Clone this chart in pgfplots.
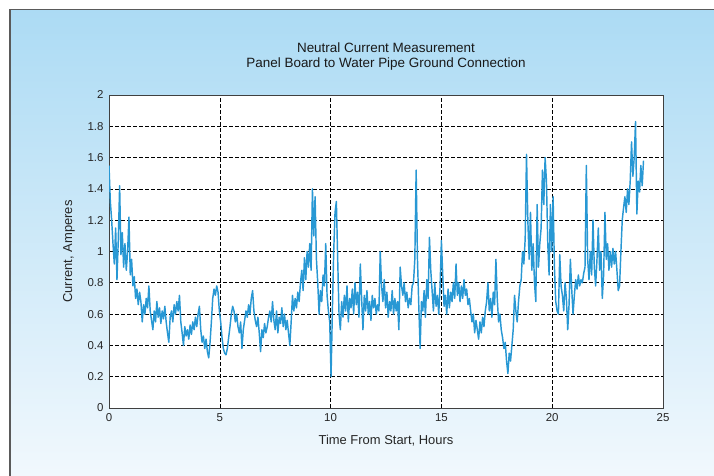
\documentclass[border=0pt]{standalone}
\usepackage{fontspec}
\setmainfont{Liberation Sans}
\usepackage{pgfplots}
\pgfplotsset{compat=1.18}
\usepackage{pgfplotstable}
\definecolor{bgtop}{RGB}{172,219,244}
\definecolor{bgbot}{RGB}{241,248,253}
\definecolor{trace}{RGB}{40,152,212}
\definecolor{frame}{RGB}{90,90,90}
\pgfplotstableread{
t v
0.00 1.55
0.06 1.32
0.12 1.20
0.18 1.05
0.24 0.92
0.30 1.15
0.36 0.82
0.42 1.08
0.48 1.42
0.54 0.98
0.60 1.12
0.66 0.90
0.72 1.05
0.78 0.88
0.84 1.00
0.90 1.22
0.96 0.85
1.02 0.95
1.08 0.78
1.14 0.84
1.20 0.70
1.26 0.76
1.32 0.66
1.38 0.74
1.44 0.68
1.50 0.55
1.56 0.66
1.62 0.60
1.68 0.70
1.74 0.64
1.80 0.78
1.86 0.62
1.92 0.56
1.98 0.50
2.04 0.62
2.10 0.55
2.16 0.68
2.22 0.58
2.28 0.64
2.34 0.54
2.40 0.62
2.46 0.57
2.52 0.65
2.58 0.55
2.64 0.48
2.70 0.42
2.76 0.58
2.82 0.62
2.88 0.55
2.94 0.66
3.00 0.60
3.06 0.68
3.12 0.62
3.18 0.72
3.24 0.55
3.30 0.48
3.36 0.40
3.42 0.52
3.48 0.46
3.54 0.50
3.60 0.44
3.66 0.53
3.72 0.47
3.78 0.55
3.84 0.50
3.90 0.58
3.96 0.52
4.02 0.60
4.08 0.65
4.14 0.50
4.20 0.42
4.26 0.46
4.32 0.38
4.38 0.44
4.44 0.36
4.50 0.32
4.56 0.42
4.62 0.55
4.68 0.70
4.74 0.76
4.80 0.72
4.86 0.78
4.92 0.74
4.98 0.62
5.04 0.55
5.10 0.45
5.16 0.38
5.22 0.35
5.28 0.34
5.34 0.38
5.40 0.45
5.46 0.52
5.52 0.60
5.58 0.65
5.64 0.62
5.70 0.55
5.76 0.60
5.82 0.52
5.88 0.48
5.94 0.55
6.00 0.38
6.06 0.50
6.12 0.56
6.18 0.62
6.24 0.58
6.30 0.66
6.36 0.60
6.42 0.70
6.48 0.75
6.54 0.62
6.60 0.56
6.66 0.52
6.72 0.58
6.78 0.48
6.84 0.36
6.90 0.50
6.96 0.45
7.02 0.54
7.08 0.48
7.14 0.52
7.20 0.58
7.26 0.62
7.32 0.55
7.38 0.68
7.44 0.56
7.50 0.50
7.56 0.62
7.62 0.48
7.68 0.58
7.74 0.54
7.80 0.64
7.86 0.52
7.92 0.60
7.98 0.50
8.04 0.56
8.10 0.48
8.16 0.40
8.22 0.55
8.28 0.72
8.34 0.62
8.40 0.70
8.46 0.64
8.52 0.74
8.58 0.68
8.64 0.80
8.70 0.88
8.76 0.75
8.82 0.96
8.88 0.82
8.94 1.00
9.00 0.90
9.06 1.05
9.12 0.88
9.18 1.40
9.24 1.10
9.30 1.35
9.36 0.95
9.42 0.80
9.48 0.60
9.54 0.75
9.60 0.68
9.66 0.85
9.72 0.78
9.78 1.05
9.84 0.72
9.90 0.62
9.96 0.55
10.02 0.20
10.08 0.62
10.14 1.00
10.20 1.25
10.26 1.32
10.32 0.95
10.38 0.60
10.44 0.50
10.50 0.68
10.56 0.58
10.62 0.72
10.68 0.62
10.74 0.78
10.80 0.55
10.86 0.70
10.92 0.64
10.98 0.76
11.04 0.60
11.10 0.80
11.16 0.66
11.22 0.74
11.28 0.58
11.34 0.92
11.40 0.70
11.46 0.50
11.52 0.72
11.58 0.62
11.64 0.75
11.70 0.60
11.76 0.68
11.82 0.56
11.88 0.72
11.94 0.64
12.00 0.70
12.06 0.60
12.12 0.66
12.18 0.62
12.24 1.00
12.30 0.78
12.36 0.68
12.42 0.82
12.48 0.64
12.54 0.74
12.60 0.58
12.66 0.68
12.72 0.62
12.78 0.75
12.84 0.60
12.90 0.70
12.96 0.62
13.02 0.68
13.08 0.50
13.14 0.90
13.20 0.78
13.26 0.72
13.32 0.80
13.38 0.68
13.44 0.74
13.50 0.64
13.56 0.70
13.62 0.66
13.68 0.78
13.74 0.80
13.80 0.95
13.86 1.52
13.92 0.95
13.98 0.65
14.04 0.38
14.10 0.68
14.16 0.62
14.22 0.75
14.28 0.58
14.34 0.82
14.40 0.70
14.46 1.09
14.52 0.88
14.58 0.75
14.64 0.62
14.70 0.80
14.76 0.65
14.82 0.72
14.88 0.60
14.94 0.78
15.00 1.07
15.06 0.85
15.12 0.65
15.18 0.72
15.24 0.60
15.30 0.76
15.36 0.64
15.42 0.74
15.48 0.68
15.54 0.80
15.60 0.70
15.66 0.92
15.72 0.72
15.78 0.80
15.84 0.68
15.90 0.78
15.96 0.70
16.02 0.82
16.08 0.72
16.14 0.76
16.20 0.66
16.26 0.70
16.32 0.62
16.38 0.55
16.44 0.60
16.50 0.48
16.56 0.56
16.62 0.50
16.68 0.44
16.74 0.55
16.80 0.48
16.86 0.58
16.92 0.52
16.98 0.62
17.04 0.68
17.10 0.80
17.16 0.62
17.22 0.70
17.28 0.58
17.34 0.74
17.40 0.66
17.46 0.95
17.52 0.70
17.58 0.55
17.64 0.60
17.70 0.50
17.76 0.45
17.82 0.38
17.88 0.42
17.94 0.30
18.00 0.22
18.06 0.35
18.12 0.30
18.18 0.40
18.24 0.50
18.30 0.72
18.36 0.62
18.42 0.55
18.48 0.68
18.54 0.78
18.60 0.82
18.66 1.00
18.72 0.92
18.78 1.08
18.84 1.62
18.90 1.20
18.96 0.95
19.02 1.25
19.08 0.88
19.14 1.05
19.20 0.80
19.26 0.68
19.32 1.30
19.38 0.90
19.44 1.05
19.50 1.15
19.56 1.52
19.62 1.30
19.68 1.60
19.74 1.45
19.80 1.05
19.86 0.85
19.92 1.30
19.98 1.00
20.04 1.35
20.10 0.90
20.16 0.68
20.22 0.62
20.28 0.60
20.34 0.98
20.40 0.78
20.46 0.72
20.52 0.62
20.58 0.80
20.64 0.70
20.70 0.50
20.76 0.66
20.82 0.95
20.88 0.76
20.94 0.60
21.00 0.72
21.06 0.82
21.12 0.76
21.18 0.85
21.24 0.78
21.30 0.82
21.36 0.80
21.42 0.86
21.48 0.90
21.54 1.55
21.60 0.95
21.66 0.82
21.72 1.00
21.78 0.85
21.84 1.20
21.90 0.90
21.96 0.78
22.02 0.95
22.08 1.15
22.14 0.88
22.20 1.00
22.26 0.70
22.32 0.85
22.38 1.25
22.44 0.95
22.50 1.05
22.56 0.88
22.62 1.00
22.68 0.90
22.74 1.02
22.80 0.92
22.86 1.00
22.92 0.88
22.98 0.75
23.04 0.78
23.10 1.00
23.16 1.20
23.22 1.28
23.28 1.35
23.34 1.25
23.40 1.40
23.46 1.30
23.52 1.45
23.58 1.70
23.64 1.48
23.70 1.60
23.76 1.83
23.82 1.24
23.88 1.45
23.94 1.38
24.00 1.55
24.06 1.42
24.12 1.58
}\datatable
\begin{document}
\begin{tikzpicture}[x=1bp,y=1bp]
\fill[white] (0,0) rectangle (714,476);
\shade[top color=bgtop, bottom color=bgbot] (10,0) rectangle (714,466.5);
\draw[frame, line width=1.2bp] (10,0) -- (10,466.5) -- (714,466.5);
\begin{axis}[
  at={(109bp,68bp)}, anchor=south west,
  width=554bp, height=313bp, scale only axis,
  xmin=0, xmax=25, ymin=0, ymax=2,
  xtick={0,5,10,15,20,25},
  ytick={0,0.2,0.4,0.6,0.8,1,1.2,1.4,1.6,1.8,2},
  yticklabels={0,0.2,0.4,0.6,0.8,1,1.2,1.4,1.6,1.8,2},
  xticklabels={0,5,10,15,20,25},
  major tick length=0pt,
  axis line style={draw=black!75, line width=0.9bp},
  axis background/.style={fill=white},
  grid=major,
  major grid style={black, dashed, line width=0.6bp, dash pattern=on 3.5bp off 2.5bp},
  tick label style={font=\fontsize{11.5}{13}\selectfont, text=black!85},
  xticklabel style={yshift=-2bp},
  yticklabel style={xshift=-2bp},
  xlabel={Time From Start, Hours},
  ylabel={Current, Amperes},
  label style={font=\fontsize{13}{15}\selectfont, text=black!85},
  xlabel style={yshift=-7bp},
  ylabel style={yshift=6bp},
  title={Neutral Current Measurement\\Panel Board to Water Pipe Ground Connection},
  title style={font=\fontsize{13.5}{15.5}\selectfont, align=center, text=black!90, yshift=15bp},
  clip=true,
]
\addplot[trace, line width=1.45bp, line join=round] table[x=t, y=v] {\datatable};
\end{axis}
\pgfresetboundingbox
\path (0,0) rectangle (714,476);
\end{tikzpicture}
\end{document}
